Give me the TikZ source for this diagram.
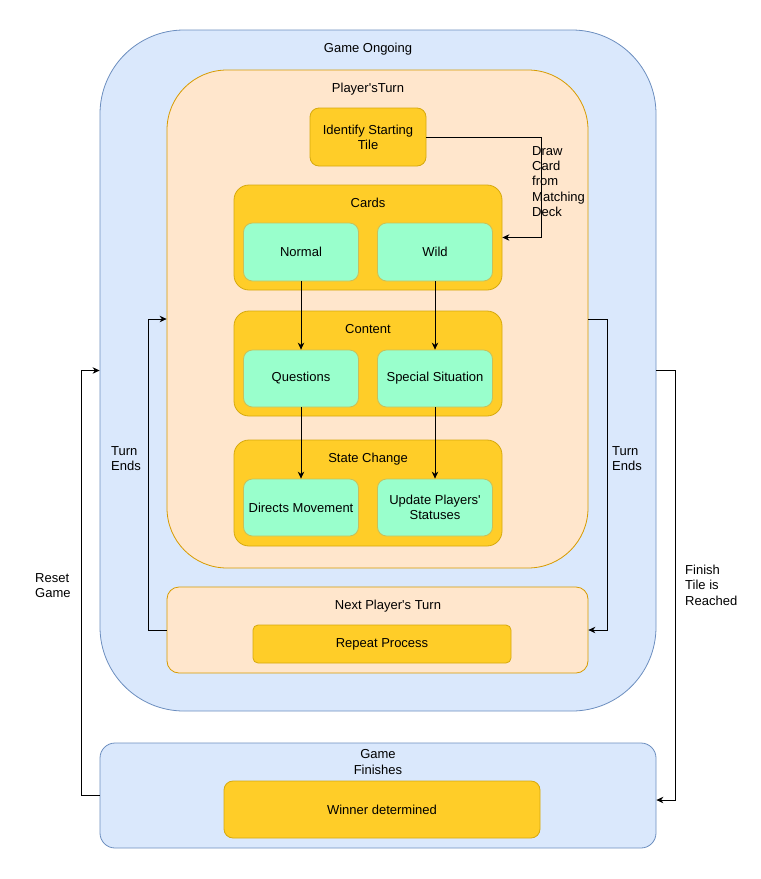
\documentclass[tikz,border=0pt]{standalone}
\usepackage{fontspec}
\newfontfamily\lsans{Liberation Sans}
\usetikzlibrary{arrows.meta,calc}
\definecolor{bluefill}{HTML}{DAE8FC}
\definecolor{bluedraw}{HTML}{6C8EBF}
\definecolor{peachfill}{HTML}{FFE6CC}
\definecolor{peachdraw}{HTML}{D79B00}
\definecolor{yelfill}{HTML}{FFCD28}
\definecolor{yeldraw}{HTML}{D6A90E}
\definecolor{greenfill}{HTML}{99FFCC}
\definecolor{greendraw}{HTML}{C8C05A}
\tikzset{
  box/.style={rectangle, inner sep=0pt, line width=0.8pt},
  bluebox/.style={box, fill=bluefill, draw=bluedraw},
  peachbox/.style={box, fill=peachfill, draw=peachdraw},
  yelbox/.style={box, fill=yelfill, draw=yeldraw},
  greenbox/.style={box, fill=greenfill, draw=greendraw, rounded corners=9pt},
  txt/.style={font=\lsans\fontsize{13}{15.3}\selectfont, inner sep=0pt, align=center},
  ltxt/.style={font=\lsans\fontsize{13}{15.3}\selectfont, inner sep=0pt, align=left},
  arr/.style={line width=0.8pt, -{Stealth[length=7pt,width=6.5pt]}},
}
\begin{document}
\begin{tikzpicture}[x=1pt,y=-1pt]
\useasboundingbox (0,0) rectangle (761,879);
% containers
\node[bluebox, rounded corners=84pt, minimum width=556pt, minimum height=681pt] (go) at (378,370.5) {};
\node[txt] (gol) at (368,49) {Game Ongoing};
\node[peachbox, rounded corners=60pt, minimum width=421pt, minimum height=498pt] (pt) at (377.5,319) {};
\node[txt] (ptl) at (368,89) {Player'sTurn};
\node[yelbox, rounded corners=9pt, minimum width=116pt, minimum height=58pt] (ist) at (368,137) {};
\node[txt] (istl) at (368,137) {Identify Starting\\Tile};
% Cards
\node[yelbox, rounded corners=15pt, minimum width=268pt, minimum height=105pt] (cards) at (368,237.5) {};
\node[txt] (cardsl) at (368,203) {Cards};
\node[greenbox, minimum width=115pt, minimum height=58pt] (normal) at (301,252) {};
\node[txt] at (normal) {Normal};
\node[greenbox, minimum width=115pt, minimum height=58pt] (wild) at (435,252) {};
\node[txt] at (wild) {Wild};
% Content
\node[yelbox, rounded corners=15pt, minimum width=268pt, minimum height=105pt] (content) at (368,363.5) {};
\node[txt] (contentl) at (368,329) {Content};
\node[greenbox, minimum width=115pt, minimum height=57pt] (quest) at (301,378.5) {};
\node[txt] at (quest) {Questions};
\node[greenbox, minimum width=115pt, minimum height=57pt] (spec) at (435,378.5) {};
\node[txt] at (spec) {Special Situation};
% State change
\node[yelbox, rounded corners=15pt, minimum width=268pt, minimum height=106pt] (state) at (368,493) {};
\node[txt] (statel) at (368,459) {State Change};
\node[greenbox, minimum width=115pt, minimum height=57pt] (dirm) at (301,507.5) {};
\node[txt] at (dirm) {Directs Movement};
\node[greenbox, minimum width=115pt, minimum height=57pt] (upd) at (435,507.5) {};
\node[txt] at (upd) {Update Players'\\Statuses};
% Next player's turn
\node[peachbox, rounded corners=12pt, minimum width=421pt, minimum height=86pt] (npt) at (377.5,630) {};
\node[txt] (nptl) at (388,606) {Next Player's Turn};
\node[yelbox, rounded corners=5pt, minimum width=258pt, minimum height=38pt] (rep) at (382,644) {};
\node[txt] at (rep) {Repeat Process};
% Game finishes
\node[bluebox, rounded corners=15pt, minimum width=556pt, minimum height=105pt] (gf) at (378,795.5) {};
\node[txt] (gfl) at (378,762) {Game\\Finishes};
\node[yelbox, rounded corners=9pt, minimum width=316pt, minimum height=57pt] (win) at (382,809.5) {};
\node[txt] at (win) {Winner determined};
% connectors
\coordinate (dc) at (541,137);
\draw[arr] (ist.east) -- (dc) |- (cards.east);
\node[ltxt, anchor=north west] (dcl) at (532,146) {Draw\\Card\\from\\Matching\\Deck};
\draw[arr] (normal.south) -- (quest.north);
\draw[arr] (wild.south) -- (spec.north);
\draw[arr] (quest.south) -- (dirm.north);
\draw[arr] (spec.south) -- (upd.north);
\coordinate (tl) at (148.5,630);
\draw[arr] (npt.west) -- (tl) |- (pt.west);
\node[ltxt, anchor=north west] (tll) at (111,446) {Turn\\Ends};
\coordinate (tr) at (607.5,319);
\draw[arr] (pt.east) -- (tr) |- (npt.east);
\node[ltxt, anchor=north west] (trl) at (612,446) {Turn\\Ends};
\coordinate (rg) at (81,795.5);
\draw[arr] (gf.west) -- (rg) |- (go.west);
\node[ltxt, anchor=north west] (rgl) at (35,573) {Reset\\Game};
\coordinate (fr) at (675,370.5);
\coordinate (fe) at ($(gf.east)+(0,4.5)$);
\draw[arr] (go.east) -- (fr) |- (fe);
\node[ltxt, anchor=north west] (frl) at (685,565) {Finish\\Tile is\\Reached};
\end{tikzpicture}
\end{document}
